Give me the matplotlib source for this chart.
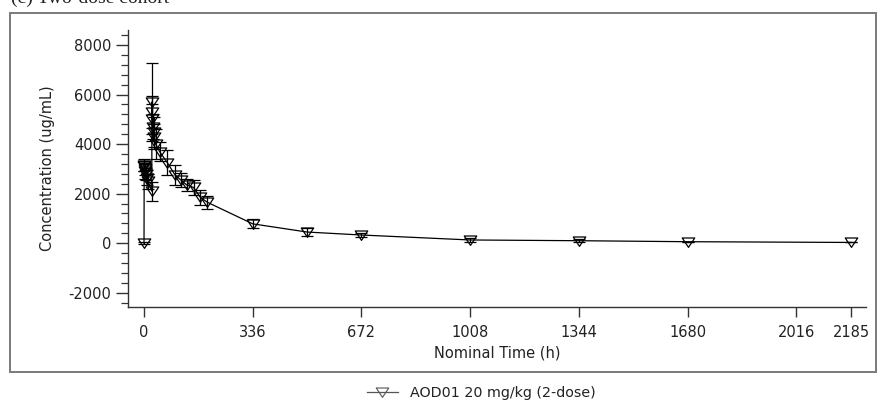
import matplotlib
matplotlib.use("Agg")
import matplotlib.pyplot as plt
from matplotlib.path import Path
from matplotlib.lines import Line2D
from matplotlib.patches import Rectangle
from matplotlib.ticker import MultipleLocator

# ---- data ----
time_h = [0, 0.5, 1, 2, 4, 6, 8, 12, 24,
          24.5, 25, 26, 28, 30, 32, 36,
          48, 72, 96, 114, 132, 153, 174, 196,
          336, 504, 672, 1008, 1344, 1680, 2185]
conc = [0, 3150, 3100, 3000, 2900, 2800, 2650, 2500, 2100,
        5700, 5300, 5000, 4700, 4500, 4300, 4000,
        3700, 3250, 2750, 2550, 2350, 2250, 1850, 1650,
        780, 450, 330, 130, 100, 60, 30]
conc_sd = [40, 250, 200, 250, 300, 250, 300, 300, 380,
           1580, 650, 600, 500, 600, 500, 600,
           400, 500, 400, 300, 250, 300, 300, 250,
           180, 150, 100, 70, 50, 0, 0]

x_ticks = [0, 336, 672, 1008, 1344, 1680, 2016, 2185]
y_ticks = [-2000, 0, 2000, 4000, 6000, 8000]
series_label = "AOD01 20 mg/kg (2-dose)"
title_text = "(c) Two-dose cohort"
x_label = "Nominal Time (h)"
y_label = "Concentration (ug/mL)"

plt.rcParams['font.family'] = ['DejaVu Sans']
plt.rcParams['axes.unicode_minus'] = False

W, H = 877, 405
fig = plt.figure(figsize=(W / 100, H / 100), dpi=100)

# outer frame
fig.patches.append(Rectangle((9.5 / W, (H - 371.5) / H), (876 - 9.5) / W, (371.5 - 12.5) / H,
                             transform=fig.transFigure, fill=False,
                             edgecolor='#7a7a7a', linewidth=1.4))

# title (cut off at top as in reference)
fig.text(11 / W, 1 - 3 / H, title_text, family='Liberation Serif', fontsize=14,
         va='baseline', ha='left', color='#222222')

ax_l, ax_r, ax_t, ax_b = 128, 866, 30, 306.7
ax = fig.add_axes([ax_l / W, (H - ax_b) / H, (ax_r - ax_l) / W, (ax_b - ax_t) / H])

tri = Path([(-1.0, 0.72), (1.0, 0.72), (0.0, -0.78), (-1.0, 0.72)],
           [Path.MOVETO, Path.LINETO, Path.LINETO, Path.CLOSEPOLY])

ax.errorbar(time_h, conc, yerr=conc_sd, fmt='-', color='black', lw=0.9,
            marker=tri, ms=9, mfc='none', mec='black', mew=0.9,
            ecolor='black', elinewidth=0.9, capsize=4.5, capthick=0.9)

ax.set_xlim(-49.5, 2231)
ax.set_ylim(-2563, 8604)
ax.set_xticks(x_ticks)
ax.set_xticklabels([str(v) for v in x_ticks])
ax.set_yticks(y_ticks)
ax.yaxis.set_minor_locator(MultipleLocator(400))

for s in ['top', 'right']:
    ax.spines[s].set_visible(False)
for s in ['left', 'bottom']:
    ax.spines[s].set_color('#333333')
    ax.spines[s].set_linewidth(1.0)

ax.tick_params(axis='both', which='major', direction='out', length=7, width=1.0,
               color='#333333', labelsize=10.5, labelcolor='#222222')
ax.tick_params(axis='y', which='major', length=9, pad=3)
ax.tick_params(axis='y', which='minor', direction='out', length=5, width=0.9, color='#333333')
ax.tick_params(axis='x', which='major', pad=6)

ax.set_xlabel(x_label, fontsize=10.5, color='#222222', labelpad=4)
ax.set_ylabel(y_label, fontsize=10.5, color='#222222', labelpad=10)

handle = Line2D([], [], color='#555555', lw=0.9, marker=tri, ms=9,
                mfc='none', mec='#555555', mew=0.8)
fig.legend(handles=[handle], labels=[series_label], loc='center',
           bbox_to_anchor=(481 / W, 1 - 393 / H), frameon=False, fontsize=10.3,
           handlelength=2.2, handletextpad=0.8, labelcolor='#222222')

fig.savefig("out.png", dpi=100)
